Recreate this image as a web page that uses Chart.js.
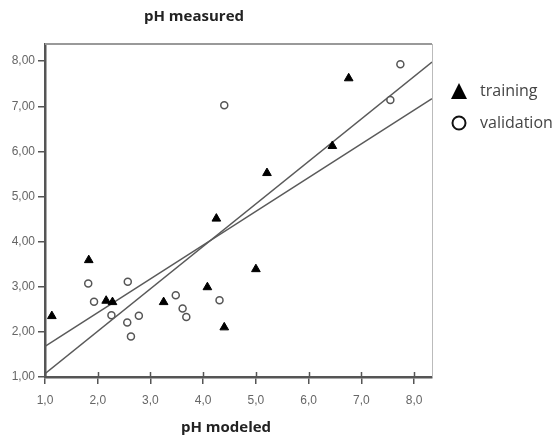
<!DOCTYPE html>
<html>
<head>
<meta charset="utf-8">
<script src="https://cdn.jsdelivr.net/npm/chart.js@4"></script>
<style>
  html, body { margin: 0; padding: 0; background: #fff; }
  #wrap { width: 559px; height: 438px; position: relative; }
</style>
</head>
<body>
<div id="wrap"><canvas id="chart"></canvas></div>
<script>
// values (pH modeled, pH measured)
const trainingX = [1.13, 1.83, 2.16, 2.28, 3.25, 4.08, 4.40, 5.00, 4.25, 5.21, 6.45, 6.76];
const trainingY = [2.35, 3.59, 2.69, 2.66, 2.66, 2.99, 2.10, 3.39, 4.51, 5.52, 6.12, 7.62];

const validationX = [1.82, 1.93, 2.26, 2.57, 2.56, 2.63, 2.78, 3.48, 3.61, 3.68, 4.31, 4.40, 7.55, 7.74];
const validationY = [3.07, 2.67, 2.37, 3.11, 2.21, 1.90, 2.36, 2.81, 2.52, 2.33, 2.70, 7.02, 7.14, 7.93];

// fit lines, end points at the plot edges
const fitX = [1.0, 8.34];
const fitTrainingY = [1.075, 7.98];
const fitValidationY = [1.68, 7.17];

const X_MIN = 1.0, X_MAX = 8.34;
const Y_MIN = 1.0, Y_MAX = 8.38;
const xTicks = [1, 2, 3, 4, 5, 6, 7, 8];
const yTicks = [1, 2, 3, 4, 5, 6, 7, 8];

const AXIS_COLOR = "#555";
const TEXT_COLOR = "#666";

const zip = (xs, ys) => xs.map((x, i) => ({ x, y: ys[i] }));

const frameAndLabels = {
  id: "frameAndLabels",
  afterDraw(chart) {
    const { ctx, chartArea: a } = chart;
    ctx.save();
    // top and right frame
    ctx.strokeStyle = "#999";
    ctx.lineWidth = 2;
    ctx.beginPath();
    ctx.moveTo(a.left, a.top);
    ctx.lineTo(a.right, a.top);
    ctx.stroke();
    ctx.strokeStyle = "#bbb";
    ctx.lineWidth = 1;
    ctx.beginPath();
    ctx.moveTo(a.right + 0.5, a.top);
    ctx.lineTo(a.right + 0.5, a.bottom);
    ctx.stroke();

    // x tick marks crossing the axis
    ctx.strokeStyle = AXIS_COLOR;
    ctx.lineWidth = 1.5;
    const xs = chart.scales.x;
    xTicks.forEach((v) => {
      const px = Math.round(xs.getPixelForValue(v)) + 0.5;
      ctx.beginPath();
      ctx.moveTo(px, a.bottom - 5);
      ctx.lineTo(px, a.bottom);
      ctx.stroke();
    });

    // axis titles
    ctx.fillStyle = "#222";
    ctx.font = "bold 15px 'Open Sans'";
    ctx.textAlign = "center";
    ctx.textBaseline = "middle";
    ctx.fillText("pH measured", 194, 17);
    ctx.fillText("pH modeled", 226, 428);

    // legend
    ctx.textAlign = "left";
    ctx.font = "16px 'Open Sans'";
    const legendX = 459;
    const rows = [
      { y: 91, label: chart.data.datasets[0].label },
      { y: 123, label: chart.data.datasets[1].label },
    ];
    ctx.beginPath();
    ctx.moveTo(legendX, rows[0].y - 8);
    ctx.lineTo(legendX + 8, rows[0].y + 8);
    ctx.lineTo(legendX - 8, rows[0].y + 8);
    ctx.closePath();
    ctx.fillStyle = "#000";
    ctx.fill();
    ctx.beginPath();
    ctx.arc(legendX, rows[1].y, 6.5, 0, Math.PI * 2);
    ctx.strokeStyle = "#111";
    ctx.lineWidth = 2;
    ctx.stroke();
    ctx.fillStyle = "#444";
    rows.forEach((r) => ctx.fillText(r.label, 480, r.y));
    ctx.restore();
  },
};

new Chart(document.getElementById("chart"), {
  type: "scatter",
  data: {
    datasets: [
      {
        label: "training",
        data: zip(trainingX, trainingY),
        pointStyle: "triangle",
        pointRadius: 5,
        backgroundColor: "#000",
        borderColor: "#000",
        borderWidth: 1,
      },
      {
        label: "validation",
        data: zip(validationX, validationY),
        pointStyle: "circle",
        pointRadius: 3.5,
        backgroundColor: "#fff",
        borderColor: "#555",
        borderWidth: 1.5,
      },
      {
        label: "fit training",
        type: "line",
        data: zip(fitX, fitTrainingY),
        borderColor: "#5a5a5a",
        borderWidth: 1.5,
        pointRadius: 0,
      },
      {
        label: "fit validation",
        type: "line",
        data: zip(fitX, fitValidationY),
        borderColor: "#5a5a5a",
        borderWidth: 1.5,
        pointRadius: 0,
      },
    ],
  },
  options: {
    responsive: true,
    maintainAspectRatio: false,
    animation: false,
    layout: { padding: { top: 44, right: 127, left: 0, bottom: 0 } },
    plugins: {
      legend: { display: false },
      tooltip: { enabled: false },
    },
    scales: {
      x: {
        type: "linear",
        min: X_MIN,
        max: X_MAX,
        afterFit: (s) => { s.height = 61; },
        afterBuildTicks: (s) => { s.ticks = xTicks.map((v) => ({ value: v })); },
        ticks: {
          includeBounds: false,
          padding: 9,
          color: TEXT_COLOR,
          font: { family: "Liberation Sans", size: 12 },
          callback: (v) => v.toFixed(1).replace(".", ","),
        },
        grid: { drawOnChartArea: false, tickLength: 7, color: AXIS_COLOR, lineWidth: 1.5 },
        border: { color: AXIS_COLOR, width: 2.5 },
      },
      y: {
        type: "linear",
        min: Y_MIN,
        max: Y_MAX,
        afterFit: (s) => { s.width = 45; },
        afterBuildTicks: (s) => { s.ticks = yTicks.map((v) => ({ value: v })); },
        ticks: {
          includeBounds: false,
          padding: 3,
          color: TEXT_COLOR,
          font: { family: "Liberation Sans", size: 12 },
          callback: (v) => v.toFixed(2).replace(".", ","),
        },
        grid: { drawOnChartArea: false, tickLength: 7, color: AXIS_COLOR, lineWidth: 1.5 },
        border: { color: AXIS_COLOR, width: 2.5 },
      },
    },
  },
  plugins: [frameAndLabels],
});
</script>
</body>
</html>
